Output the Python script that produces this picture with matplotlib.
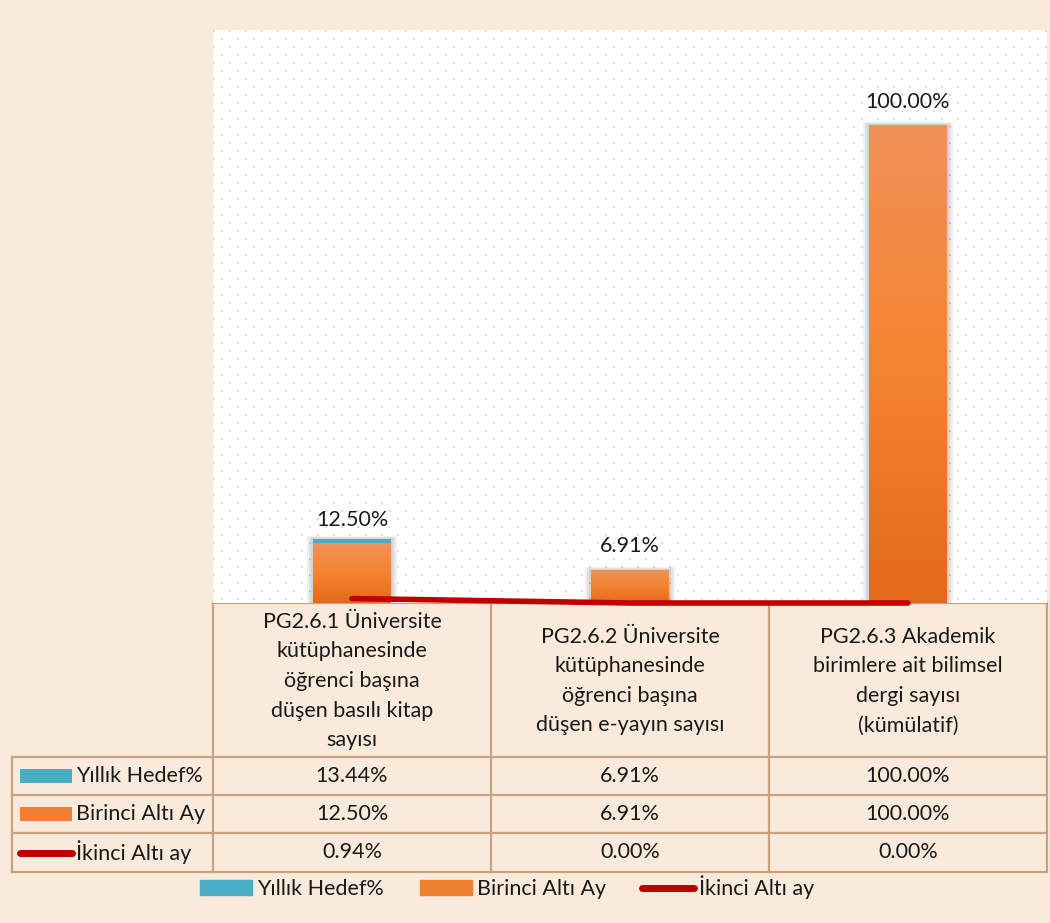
import numpy as np
import matplotlib
matplotlib.use("Agg")
import matplotlib.pyplot as plt
from matplotlib.patches import Rectangle, Patch
from matplotlib.lines import Line2D
from matplotlib.colors import LinearSegmentedColormap

# data
categories = [
    "PG2.6.1 Üniversite\nkütüphanesinde\nöğrenci başına\ndüşen basılı kitap\nsayısı",
    "PG2.6.2 Üniversite\nkütüphanesinde\nöğrenci başına\ndüşen e-yayın sayısı",
    "PG2.6.3 Akademik\nbirimlere ait bilimsel\ndergi sayısı\n(kümülatif)",
]
series_names = ["Yıllık Hedef%", "Birinci Altı Ay", "İkinci Altı ay"]
yillik_hedef = [13.44, 6.91, 100.00]
birinci_alti_ay = [12.50, 6.91, 100.00]
ikinci_alti_ay = [0.94, 0.00, 0.00]

TEAL = "#4BACC6"
ORANGE = "#F0802F"
RED = "#C00000"
GRID = "#C9A27E"
TXT = "#1a1a1a"
FS = 15.5

plt.rcParams["font.family"] = ["Lato", "DejaVu Sans"]

W, H = 1050, 923
fig = plt.figure(figsize=(W / 100, H / 100), dpi=100, facecolor="#F9EADC")

# plot area / table layout in pixels
PX0, PX1, PY0, PY1 = 213, 1047, 30, 603
LX0 = 12
row_y = [603, 757, 795, 833, 872]

ax = fig.add_axes([PX0 / W, 1 - PY1 / H, (PX1 - PX0) / W, (PY1 - PY0) / H])
ax.set_facecolor("white")
ax.set_zorder(2)

# faint dotted texture in the plot area
ph, pw = PY1 - PY0, PX1 - PX0
yy, xx = np.mgrid[0:ph, 0:pw]
tex = np.zeros((ph, pw, 4))
tex[..., :3] = (0.93, 0.85, 0.76)
on = (xx % 8 < 2) & (yy % 8 < 2) & (((xx // 8) + (yy // 8)) % 2 == 0)
tex[..., 3] = on.astype(float)
ax.imshow(tex, extent=[0, 1, 0, 1], transform=ax.transAxes, aspect="auto", zorder=0,
          interpolation="nearest")

x = np.arange(len(categories))
bw = 0.28

# soft shadows
for i in range(len(x)):
    top = max(yillik_hedef[i], birinci_alti_ay[i])
    for pad in [6, 4, 2]:
        px = pad / 278
        py = pad * 120 / 573
        ax.add_patch(Rectangle((x[i] - bw / 2 - px, 0), bw + 2 * px, top + py * 0.5,
                               color="black", alpha=0.06, lw=0, zorder=1))

ax.bar(x, yillik_hedef, bw, color=TEAL, zorder=2)
bars = ax.bar(x, birinci_alti_ay, bw, color=ORANGE, zorder=3)
cmap = LinearSegmentedColormap.from_list("og", ["#E36A1A", "#F5842F", "#F19158"])
grad = np.linspace(1, 0, 100).reshape(-1, 1)
for r in bars:
    im = ax.imshow(grad, extent=[r.get_x(), r.get_x() + r.get_width(), 0, r.get_height()],
                   aspect="auto", cmap=cmap, zorder=3.5, interpolation="bilinear")
    im.set_clip_path(r)

ax.plot(x, ikinci_alti_ay, color=RED, lw=4, solid_capstyle="round", zorder=5, clip_on=False)

for i, v in enumerate(birinci_alti_ay):
    ax.annotate(f"{v:.2f}%", (x[i], v), xytext=(0, 17), textcoords="offset points",
                ha="center", va="center", fontsize=FS, color=TXT)

ax.set_xlim(-0.5, len(x) - 0.5)
ax.set_ylim(0, 120)
ax.set_xticks([])
ax.set_yticks([])
for s in ax.spines.values():
    s.set_visible(False)

# data table
tab = fig.add_axes([0, 0, 1, 1])
tab.set_xlim(0, W)
tab.set_ylim(H, 0)
tab.axis("off")
tab.set_facecolor("none")
tab.set_zorder(1)

cw = (PX1 - PX0) / len(categories)
col_x = [PX0 + cw * j for j in range(len(categories) + 1)]
lw = 1.6
tab.plot([PX0, PX1], [row_y[0]] * 2, color=GRID, lw=lw)
for yv in row_y[1:]:
    tab.plot([LX0, PX1], [yv] * 2, color=GRID, lw=lw)
tab.plot([LX0, LX0], [row_y[1], row_y[-1]], color=GRID, lw=lw)
for cx in col_x:
    tab.plot([cx, cx], [row_y[0], row_y[-1]], color=GRID, lw=lw)

for j, c in enumerate(categories):
    tab.text(col_x[j] + cw / 2, (row_y[0] + row_y[1]) / 2 + 1, c, ha="center", va="center",
             fontsize=FS, color=TXT, linespacing=1.6)

rows = [yillik_hedef, birinci_alti_ay, ikinci_alti_ay]
for r, vals in enumerate(rows):
    yc = (row_y[r + 1] + row_y[r + 2]) / 2
    for j, v in enumerate(vals):
        tab.text(col_x[j] + cw / 2, yc, f"{v:.2f}%", ha="center", va="center",
                 fontsize=FS, color=TXT)
    if r == 2:
        tab.plot([20, 72], [yc, yc], color=RED, lw=5, solid_capstyle="round")
    else:
        tab.add_patch(Rectangle((20, yc - 7), 52, 14, color=[TEAL, ORANGE][r], lw=0))
    tab.text(76, yc, series_names[r], ha="left", va="center", fontsize=FS, color=TXT)

handles = [Patch(color=TEAL), Patch(color=ORANGE), Line2D([], [], color=RED, lw=5, solid_capstyle="round")]
fig.legend(handles, series_names, loc="center", bbox_to_anchor=(507 / W, 1 - 887 / H), ncol=3,
           frameon=False, fontsize=FS, handlelength=2.42, handleheight=0.65, handletextpad=0.23,
           columnspacing=1.67, labelcolor=TXT)

fig.savefig("out.png", dpi=100, facecolor=fig.get_facecolor())
